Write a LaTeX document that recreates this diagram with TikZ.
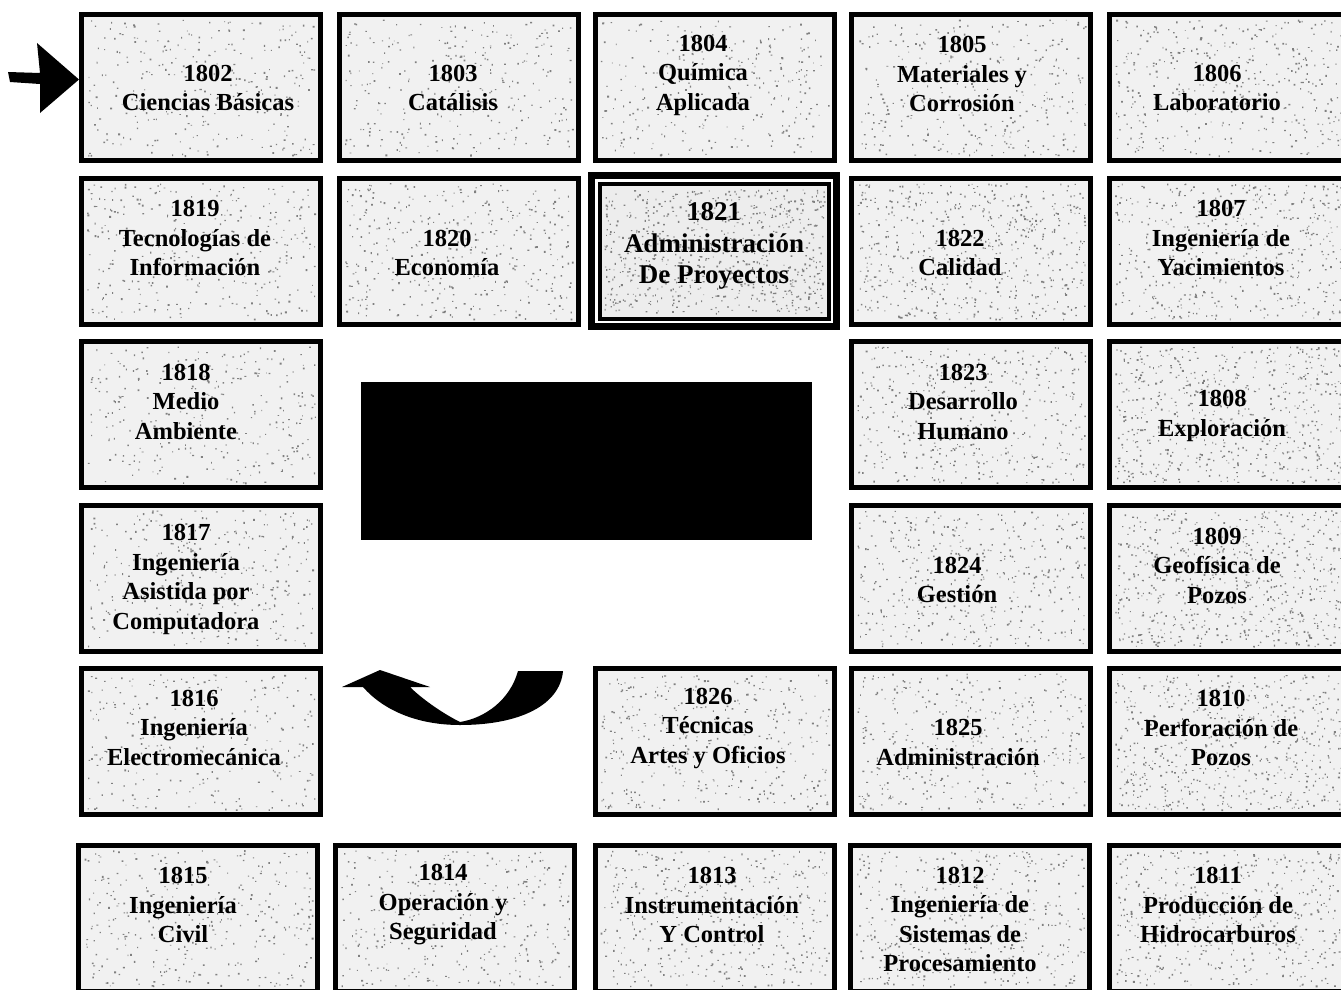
\documentclass[tikz,border=0pt]{standalone}
\usepackage{fontspec}
\setmainfont{Liberation Serif}
\usetikzlibrary{calc}
\tikzset{
  box/.style={draw=black, line width=5pt, fill=gray!11, minimum width=239pt, minimum height=146pt, inner sep=0pt},
  lbl/.style={font=\bfseries\fontsize{24.5}{29.5}\selectfont, align=center, inner sep=0pt, text=black},
  speck/.style={fill=black!50},
}
\newcommand\myspeck[5]{%
  \fill[speck] \foreach \k in {1,...,#5}{ ({#1-#3+rnd*2*#3},{#2-#4+rnd*2*#4}) rectangle ++({0.8+rnd*1.2},{0.8+rnd*1.2}) };
}
\newcommand\mycell[7]{%
  \node[box] (b#1) at (#2,#3) {};
  \myspeck{#2}{#3}{114}{68}{#7}
  \node[lbl] (t#1) at (#4,#5) {#6};
}
\begin{document}
\begin{tikzpicture}[x=1pt,y=-1pt]
\useasboundingbox (0,0) rectangle (1341,990);
\clip (0,0) rectangle (1341,990);
\pgfmathsetseed{11}
% row 1
\mycell{1802}{201}{87.5}{208}{88}{1802\\Ciencias Básicas}{300}
\mycell{1803}{459}{87.5}{453}{88}{1803\\Catálisis}{300}
\mycell{1804}{714.5}{87.5}{703}{75}{1804\\Química\\Aplicada}{300}
\mycell{1805}{971}{87.5}{962}{74}{1805\\Materiales y\\Corrosión}{340}
\mycell{1806}{1229}{87.5}{1217}{88}{1806\\Laboratorio}{400}
% row 2
\mycell{1819}{201}{251}{195}{238}{1819\\Tecnologías de\\Información}{340}
\mycell{1820}{459}{251}{447}{253}{1820\\Economía}{400}
\mycell{1822}{971}{251}{960}{253}{1822\\Calidad}{600}
\mycell{1807}{1229}{251}{1221}{238}{1807\\Ingeniería de\\Yacimientos}{500}
% 1821 double framed
\node[draw=black, line width=7pt, fill=white, minimum width=245pt, minimum height=151pt, inner sep=0pt] (b1821) at (714,251) {};
\node[draw=black, line width=4pt, fill=gray!14, minimum width=229pt, minimum height=135pt, inner sep=0pt] (b1821in) at (714,251) {};
\myspeck{714}{251}{110}{62}{750}
\node[lbl, font=\bfseries\fontsize{27}{31.5}\selectfont] (t1821) at (714,246) {1821\\Administración\\De Proyectos};
% row 3
\mycell{1818}{201}{414.5}{186}{401.5}{1818\\Medio\\Ambiente}{300}
\node[fill=black, minimum width=451pt, minimum height=158pt, inner sep=0pt] (panel) at (586.5,461) {};
\mycell{1823}{971}{414.5}{963}{401.5}{1823\\Desarrollo\\Humano}{440}
\mycell{1808}{1229}{414.5}{1222}{416}{1808\\Exploración}{640}
% row 4
\mycell{1817}{201}{578}{186}{579.5}{1817\\Ingeniería\\Asistida por\\Computadora}{340}
\mycell{1824}{971}{578}{957}{580}{1824\\Gestión}{440}
\mycell{1809}{1229}{578}{1217}{565.5}{1809\\Geofísica de\\Pozos}{660}
% row 5
\mycell{1816}{201}{741.5}{194}{727.5}{1816\\Ingeniería\\Electromecánica}{300}
\mycell{1826}{714.5}{741.5}{708}{728}{1826\\Técnicas\\Artes y Oficios}{360}
\mycell{1825}{971}{741.5}{958}{742.5}{1825\\Administración}{400}
\mycell{1810}{1229}{741.5}{1221}{728}{1810\\Perforación de\\Pozos}{600}
% row 6
\mycell{1815}{198}{918}{183}{905}{1815\\Ingeniería\\Civil}{340}
\mycell{1814}{455}{918}{443}{905}{1814\\Operación y\\Seguridad}{340}
\mycell{1813}{714.5}{918}{712}{905}{1813\\Instrumentación\\Y Control}{440}
\mycell{1812}{970}{918}{960}{919.5}{1812\\Ingeniería de\\Sistemas de\\Procesamiento}{440}
\mycell{1811}{1229}{918}{1218}{905}{1811\\Producción de\\Hidrocarburos}{500}
% entry arrow pointing at 1802
\coordinate (tail) at (8,72);
\fill[black] (tail) -- (40,73) -- (37,43) -- ($(b1802.west)+(0,-8)$) -- (40,113) -- (40,84) -- (10,82) -- cycle;
% curved return arrow
\fill[black] (563,671) -- (518,671) .. controls (510,700) and (485,718) .. (460,722)
  .. controls (440,712) and (420,697) .. (410,687) -- (430,687) -- (380,670) -- (342,687) -- (363,687)
  .. controls (385,712) and (420,725) .. (460,725) .. controls (520,725) and (560,705) .. (563,671) -- cycle;
\end{tikzpicture}
\end{document}
